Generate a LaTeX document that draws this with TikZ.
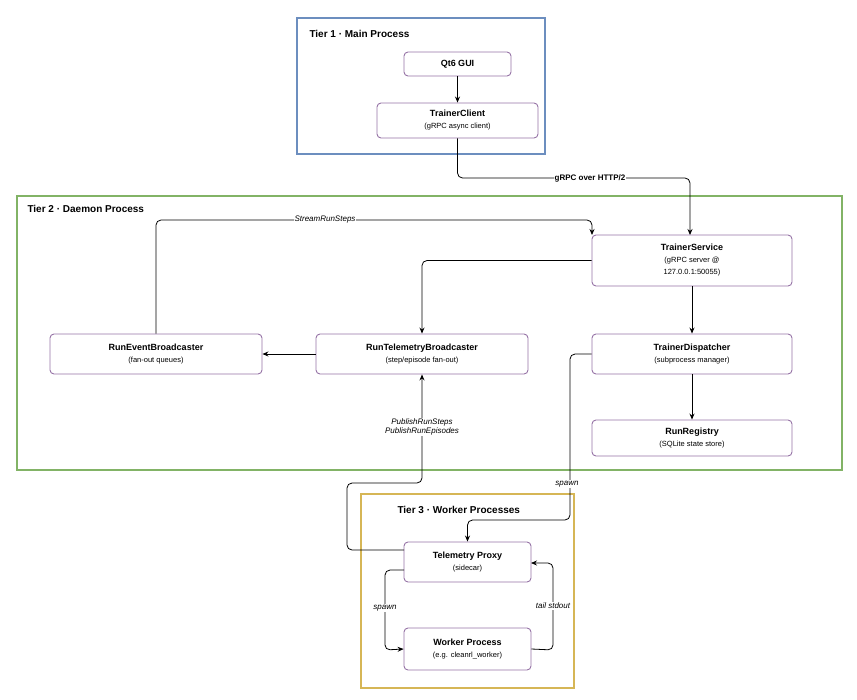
\documentclass[tikz,border=0pt]{standalone}
\usepackage{fontspec}
\setmainfont{Liberation Sans}
\usetikzlibrary{arrows.meta}
\definecolor{tblue}{HTML}{6C8EBF}
\definecolor{tgreen}{HTML}{82B366}
\definecolor{tgold}{HTML}{D6B656}
\definecolor{bpurp}{HTML}{9673A6}
\newcommand{\tbx}{\bfseries\fontsize{9}{11}\selectfont}
\newcommand{\sbx}{\fontsize{7.5}{9.5}\selectfont}
\begin{document}
\begin{tikzpicture}[x=1pt,y=-1pt,
 box/.style={draw=bpurp,rounded corners=4pt,line width=0.9pt,fill=white,align=center,inner sep=0pt},
 tier/.style={line width=1.3pt},
 tt/.style={font=\bfseries\fontsize{10}{12}\selectfont,anchor=west},
 con/.style={-{Stealth[length=6pt,width=5pt]},line width=0.8pt,rounded corners=5pt},
 lab/.style={fill=white,font=\itshape\fontsize{8}{9.5}\selectfont,inner sep=1pt,align=center}]
\useasboundingbox (0,0) rectangle (857,699);
\draw[tier,draw=tblue] (297,18) rectangle (545,154);
\node[tt] (t1) at (306,34) {Tier 1 · Main Process};
\draw[tier,draw=tgreen] (17,196) rectangle (842,470);
\node[tt] (t2) at (24,209) {Tier 2 · Daemon Process};
\draw[tier,draw=tgold] (361,494) rectangle (574,688);
\node[tt] (t3) at (394,510) {Tier 3 · Worker Processes};
\node[box,minimum width=107pt,minimum height=24pt] (gui) at (457.5,64) {{\tbx Qt6 GUI}};
\node[box,minimum width=161pt,minimum height=35pt] (tc) at (457.5,120.5) {{\tbx TrainerClient}\\{\sbx (gRPC async client)}};
\node[box,minimum width=200pt,minimum height=51pt] (ts) at (692,260.5) {{\tbx TrainerService}\\{\sbx (gRPC server @}\\{\sbx 127.0.0.1:50055)}};
\node[box,minimum width=212pt,minimum height=40pt] (reb) at (156,354) {{\tbx RunEventBroadcaster}\\{\sbx (fan-out queues)}};
\node[box,minimum width=212pt,minimum height=40pt] (rtb) at (422,354) {{\tbx RunTelemetryBroadcaster}\\{\sbx (step/episode fan-out)}};
\node[box,minimum width=200pt,minimum height=40pt] (td) at (692,354) {{\tbx TrainerDispatcher}\\{\sbx (subprocess manager)}};
\node[box,minimum width=200pt,minimum height=36pt] (rr) at (692,438) {{\tbx RunRegistry}\\{\sbx (SQLite state store)}};
\node[box,minimum width=127pt,minimum height=40pt] (tp) at (467.5,562) {{\tbx Telemetry Proxy}\\{\sbx (sidecar)}};
\node[box,minimum width=127pt,minimum height=42pt] (wp) at (467.5,649) {{\tbx Worker Process}\\{\sbx (e.g. cleanrl\_worker)}};
\draw[con] (gui) -- (tc);
\draw[con] (tc.south) |- (690,178) -- (690,235);
\node[fill=white,inner sep=1pt,font=\bfseries\fontsize{8}{9.5}\selectfont] (l1) at (590,178) {gRPC over HTTP/2};
\draw[con] (reb.north) |- (592,220) -- (592,235);
\node[lab] (l2) at (325,220) {StreamRunSteps};
\draw[con] (ts.west) -| (rtb.north);
\draw[con] (ts.south) -- (td.north);
\draw[con] (rtb.west) -- (reb.east);
\draw[con] (td.south) -- (rr.north);
\draw[con] (td.west) -- (580,354) -- (570,354) -- (570,520) -| (tp.north);
\node[lab] (l3) at (567,484) {spawn};
\draw[con] (404,550) -- (347,550) -- (347,483) -- (422,483) -- (rtb.south);
\node[lab] (l4) at (422,427) {PublishRunSteps\\PublishRunEpisodes};
\draw[con] (404,570) -- (385,570) -- (385,650) -- (wp.west);
\node[lab] (l5) at (385,608) {spawn};
\draw[con] (wp.east) -- (553,650) -- (553,563) -- (531,563);
\node[lab] (l6) at (553,606) {tail stdout};
\end{tikzpicture}
\end{document}
